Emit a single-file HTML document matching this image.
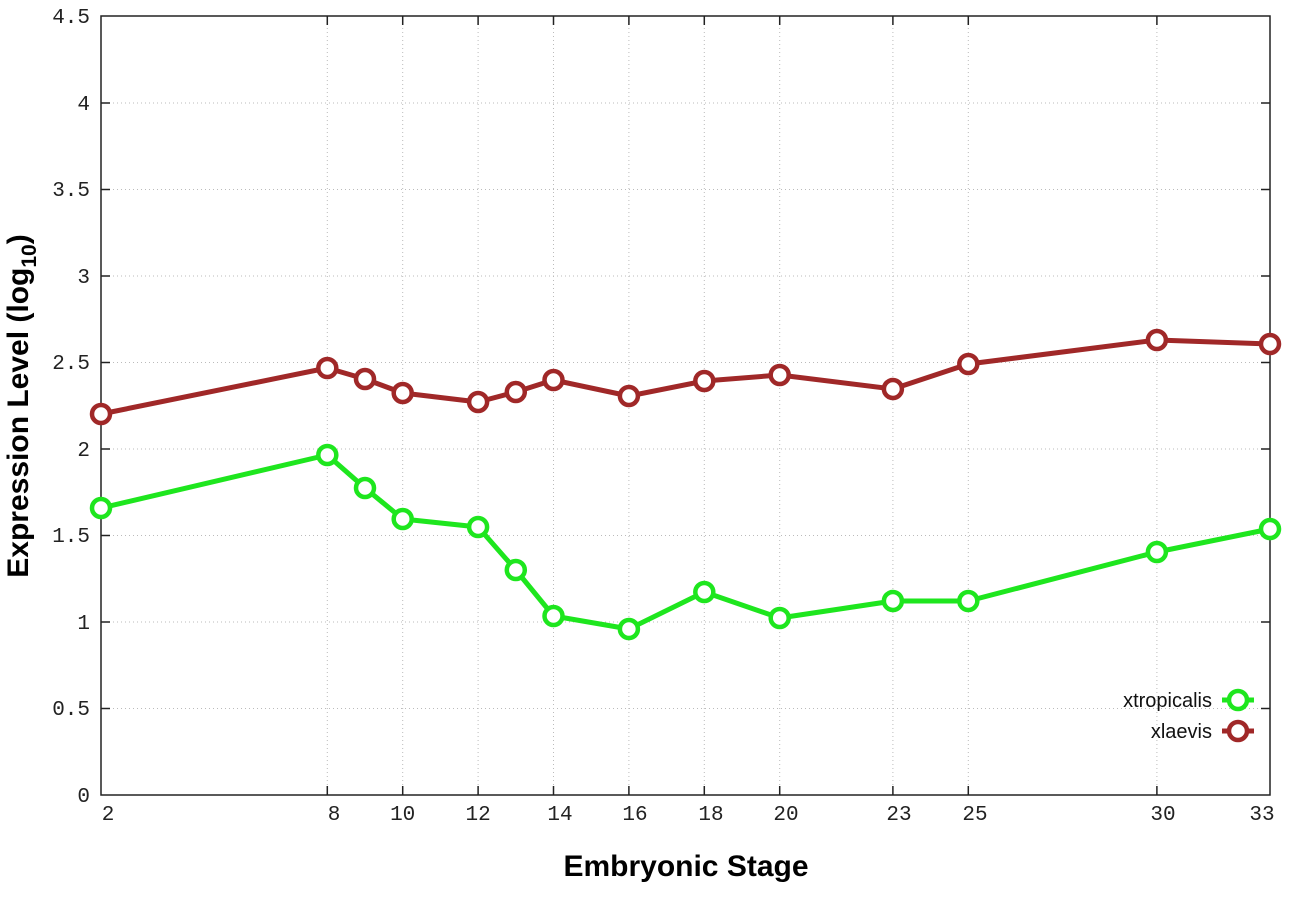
<!DOCTYPE html>
<html><head><style>body{margin:0;background:#fff}</style></head><body>
<svg width="1296" height="907" xmlns="http://www.w3.org/2000/svg" font-family="Liberation Mono, monospace">
<rect width="1296" height="907" fill="#fff"/>
<g stroke="#bbb" stroke-width="1" stroke-dasharray="1,3">
<line x1="101" x2="1270" y1="708.5" y2="708.5"/><line x1="101" x2="1270" y1="622" y2="622"/>
<line x1="101" x2="1270" y1="535.5" y2="535.5"/><line x1="101" x2="1270" y1="449" y2="449"/>
<line x1="101" x2="1270" y1="362.5" y2="362.5"/><line x1="101" x2="1270" y1="276" y2="276"/>
<line x1="101" x2="1270" y1="189.5" y2="189.5"/><line x1="101" x2="1270" y1="103" y2="103"/>
<line x1="327.3" x2="327.3" y1="16" y2="795"/><line x1="402.7" x2="402.7" y1="16" y2="795"/>
<line x1="478.1" x2="478.1" y1="16" y2="795"/><line x1="553.5" x2="553.5" y1="16" y2="795"/>
<line x1="628.9" x2="628.9" y1="16" y2="795"/><line x1="704.3" x2="704.3" y1="16" y2="795"/>
<line x1="779.7" x2="779.7" y1="16" y2="795"/><line x1="892.9" x2="892.9" y1="16" y2="795"/>
<line x1="968.3" x2="968.3" y1="16" y2="795"/><line x1="1156.9" x2="1156.9" y1="16" y2="795"/>
</g>
<rect x="101" y="16" width="1169" height="779" fill="none" stroke="#222" stroke-width="1.5"/>
<g stroke="#222" stroke-width="1.5">
<path d="M101 708.5h9M101 622h9M101 535.5h9M101 449h9M101 362.5h9M101 276h9M101 189.5h9M101 103h9M1270 708.5h-9M1270 622h-9M1270 535.5h-9M1270 449h-9M1270 362.5h-9M1270 276h-9M1270 189.5h-9M1270 103h-9"/>
<path d="M327.3 795v-9M402.7 795v-9M478.1 795v-9M553.5 795v-9M628.9 795v-9M704.3 795v-9M779.7 795v-9M892.9 795v-9M968.3 795v-9M1156.9 795v-9M327.3 16v9M402.7 16v9M478.1 16v9M553.5 16v9M628.9 16v9M704.3 16v9M779.7 16v9M892.9 16v9M968.3 16v9M1156.9 16v9"/>
</g>
<g font-size="21" fill="#222" text-anchor="end">
<text x="90" y="802">0</text><text x="90" y="715">0.5</text><text x="90" y="629">1</text>
<text x="90" y="542">1.5</text><text x="90" y="456">2</text><text x="90" y="369">2.5</text>
<text x="90" y="283">3</text><text x="90" y="196">3.5</text><text x="90" y="110">4</text><text x="90" y="23">4.5</text>
</g>
<g font-size="21" fill="#222" text-anchor="middle">
<text x="108" y="820">2</text><text x="334" y="820">8</text><text x="402.7" y="820">10</text>
<text x="478.1" y="820">12</text><text x="560" y="820">14</text><text x="635" y="820">16</text>
<text x="711" y="820">18</text><text x="786" y="820">20</text><text x="899" y="820">23</text>
<text x="975" y="820">25</text><text x="1163" y="820">30</text><text x="1262" y="820">33</text>
</g>
<text x="686" y="876" font-family="Liberation Sans, sans-serif" font-weight="bold" font-size="30" text-anchor="middle">Embryonic Stage</text>
<text transform="translate(28,406) rotate(-90)" font-family="Liberation Sans, sans-serif" font-weight="bold" font-size="30" text-anchor="middle">Expression Level (log<tspan font-size="21" dy="8">10</tspan><tspan dy="-8">)</tspan></text>
<g fill="none" stroke-width="5" stroke-linejoin="round">
<polyline stroke="#a02828" points="101,414 327.3,368 365,379 402.7,393 478.1,402 515.8,392 553.5,380 628.9,396 704.3,381 779.7,375 892.9,389 968.3,364 1156.9,340 1270,344"/>
<polyline stroke="#1ee61e" points="101,508 327.3,455 365,488 402.7,519 478.1,527 515.8,570 553.5,616 628.9,629 704.3,592 779.7,618 892.9,601 968.3,601 1156.9,552 1270,529"/>
</g>
<g fill="#fff" stroke-width="4.5">
<g stroke="#a02828">
<circle cx="101" cy="414" r="9"/><circle cx="327.3" cy="368" r="9"/><circle cx="365" cy="379" r="9"/><circle cx="402.7" cy="393" r="9"/><circle cx="478.1" cy="402" r="9"/><circle cx="515.8" cy="392" r="9"/><circle cx="553.5" cy="380" r="9"/><circle cx="628.9" cy="396" r="9"/><circle cx="704.3" cy="381" r="9"/><circle cx="779.7" cy="375" r="9"/><circle cx="892.9" cy="389" r="9"/><circle cx="968.3" cy="364" r="9"/><circle cx="1156.9" cy="340" r="9"/><circle cx="1270" cy="344" r="9"/>
</g>
<g stroke="#1ee61e">
<circle cx="101" cy="508" r="9"/><circle cx="327.3" cy="455" r="9"/><circle cx="365" cy="488" r="9"/><circle cx="402.7" cy="519" r="9"/><circle cx="478.1" cy="527" r="9"/><circle cx="515.8" cy="570" r="9"/><circle cx="553.5" cy="616" r="9"/><circle cx="628.9" cy="629" r="9"/><circle cx="704.3" cy="592" r="9"/><circle cx="779.7" cy="618" r="9"/><circle cx="892.9" cy="601" r="9"/><circle cx="968.3" cy="601" r="9"/><circle cx="1156.9" cy="552" r="9"/><circle cx="1270" cy="529" r="9"/>
</g>
</g>
<g font-family="Liberation Sans, sans-serif" font-size="20" fill="#111" text-anchor="end">
<text x="1212" y="707">xtropicalis</text><text x="1212" y="738">xlaevis</text>
</g>
<line x1="1222" x2="1254" y1="700" y2="700" stroke="#1ee61e" stroke-width="5"/>
<circle cx="1238" cy="700" r="9" fill="#fff" stroke="#1ee61e" stroke-width="4.5"/>
<line x1="1222" x2="1254" y1="731" y2="731" stroke="#a02828" stroke-width="5"/>
<circle cx="1238" cy="731" r="9" fill="#fff" stroke="#a02828" stroke-width="4.5"/>
</svg>
</body></html>
